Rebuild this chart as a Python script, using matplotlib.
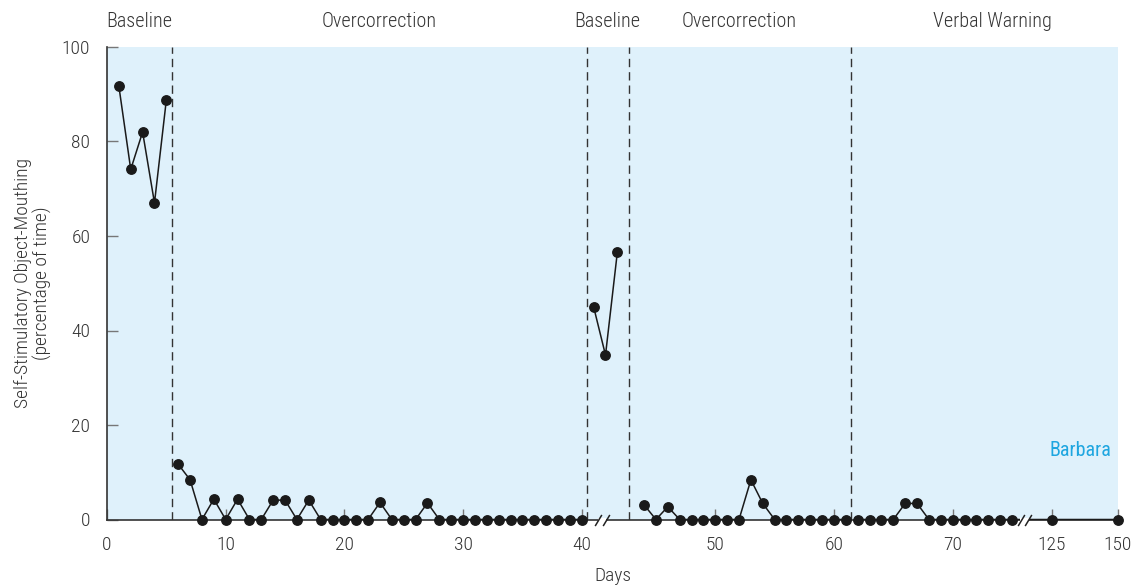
import numpy as np
import matplotlib
matplotlib.use("Agg")
import matplotlib.pyplot as plt

# phase data (day, % of time)
base1_days = [1, 2, 3, 4, 5]
base1_vals = [91.7, 74.1, 82.0, 67.0, 88.8]

over1_days = list(range(6, 41))
over1_vals = [11.7, 8.4, 0, 4.3, 0, 4.3, 0, 0, 4.1, 4.1, 0, 4.1,
              0, 0, 0, 0, 0, 3.6, 0, 0, 0, 3.5,
              0, 0, 0, 0, 0, 0, 0, 0, 0, 0, 0, 0, 0]

base2_days = [41, 42, 43]
base2_vals = [45.0, 34.8, 56.6]

over2_days = list(range(44, 62))
over2_vals = [3.1, 0, 2.7, 0, 0, 0, 0, 0, 0, 8.4, 3.4,
              0, 0, 0, 0, 0, 0, 0]

verbal_days = list(range(62, 76)) + [125, 150]
verbal_vals = [0, 0, 0, 0, 3.4, 3.4, 0, 0, 0, 0, 0, 0, 0, 0, 0, 0]

phase_lines = [5.5, 40.4, 43.95, 61.4]
phase_names = ["Baseline", "Overcorrection", "Baseline", "Overcorrection", "Verbal Warning"]
x_ticks = [0, 10, 20, 30, 40, 50, 60, 70, 125, 150]
y_ticks = [0, 20, 40, 60, 80, 100]
breaks = [41.7, 76.05]


# broken day axis: three pieces with their own spacing
def fwd(d):
    d = np.asarray(d, dtype=float)
    return np.where(d < 44, d, np.where(d < 100, d + 1.25, 79.6 + (d - 125) * 0.2232))


def inv(p):
    p = np.asarray(p, dtype=float)
    return np.where(p < 44, p, np.where(p < 78, p - 1.25, 125 + (p - 79.6) / 0.2232))


plt.rcParams["font.family"] = ["Roboto Condensed", "DejaVu Sans"]
plt.rcParams["font.stretch"] = "condensed"
plt.rcParams["font.weight"] = "light"
txt = "#333333"
bg = "#dff1fb"

fig = plt.figure(figsize=(11.46, 5.85), dpi=100)
ax = fig.add_axes([107 / 1146, 1 - 519.5 / 585, 1011 / 1146, 472.5 / 585])
ax.set_facecolor(bg)
ax.set_xscale("function", functions=(fwd, inv))
ax.set_xlim(0, 150)
ax.set_ylim(0, 100)

for days, vals in [(base1_days, base1_vals), (over1_days, over1_vals),
                   (base2_days, base2_vals), (over2_days, over2_vals),
                   (verbal_days, verbal_vals)]:
    ax.plot(days, vals, color="#1a1a1a", lw=1.1, marker="o", ms=6.8,
            zorder=4, clip_on=False)

for x in phase_lines:
    ax.axvline(x, color="#333333", lw=1.0, dashes=(6, 3.6), zorder=3)

# phase titles centred between the phase lines
edges = [0] + phase_lines + [150]
total = float(fwd(150))
for i, name in enumerate(phase_names):
    mid = (float(fwd(edges[i])) + float(fwd(edges[i + 1]))) / 2 / total
    if i == 4:
        mid += 0.008
    ax.text(mid, 1.053, name, transform=ax.transAxes, ha="center", va="center",
            fontsize=14.5, color=txt)

# axis break marks
xt = ax.get_xaxis_transform()
for b in breaks:
    ax.plot([b - 0.35, b + 0.35], [0, 0], color="white", lw=3, transform=xt,
            zorder=5, clip_on=False, solid_capstyle="butt")
    for dx in (-0.33, 0.33):
        ax.plot([b + dx], [0], transform=xt, marker=[(-0.6, -1), (0.6, 1)],
                ms=8, mew=1.1, color="#222222", zorder=6, clip_on=False)

ax.text(0.993, 0.145, "Barbara", transform=ax.transAxes, ha="right", va="center",
        fontsize=14.5, color="#1ea6e0", fontweight="normal")

for s in ["top", "right"]:
    ax.spines[s].set_visible(False)
for s in ["left", "bottom"]:
    ax.spines[s].set_color("#333333")
    ax.spines[s].set_linewidth(1.2)

ax.set_xticks(x_ticks)
ax.set_xticklabels([str(t) for t in x_ticks])
ax.set_yticks(y_ticks)
ax.set_yticklabels([str(t) for t in y_ticks])
ax.minorticks_off()
ax.tick_params(direction="in", length=8, width=1.0, color="#777777",
               labelsize=14, labelcolor=txt)
ax.tick_params(axis="x", pad=12)
ax.tick_params(axis="y", pad=12)

ax.set_xlabel("Days", fontsize=14, color=txt, labelpad=9, fontweight="light")
ax.set_ylabel("Self-Stimulatory Object-Mouthing\n(percentage of time)",
              fontsize=14, color=txt, labelpad=7, linespacing=1.05,
              fontweight="light")

fig.savefig("out.png", dpi=100)
